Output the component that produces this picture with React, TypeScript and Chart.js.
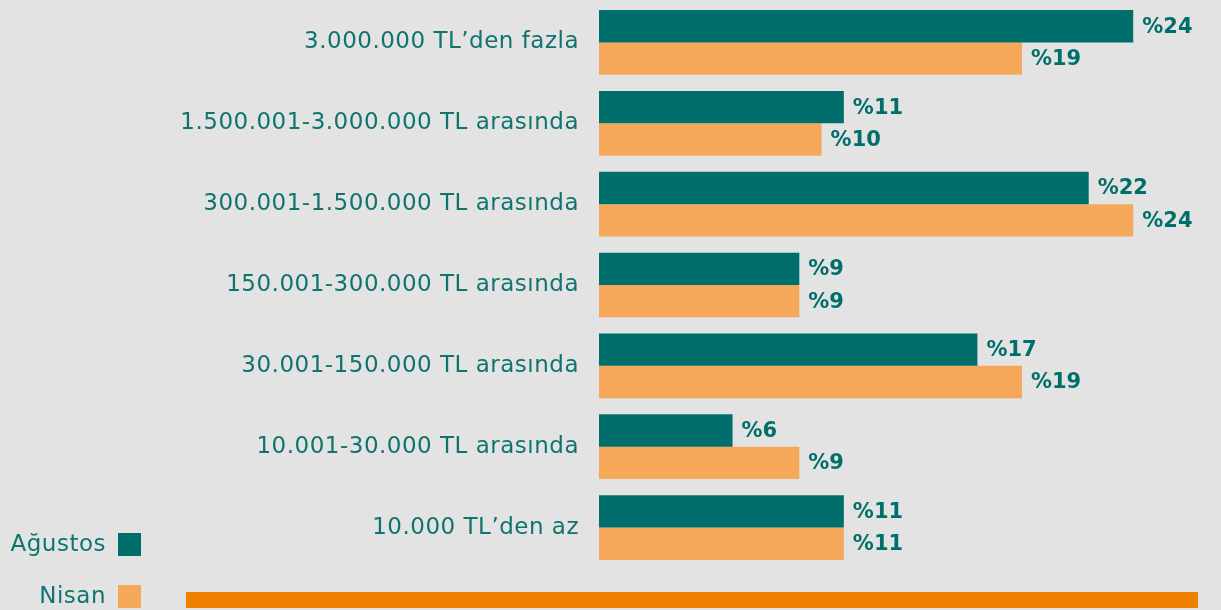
import React, { useEffect, useRef } from "react";
import { Chart, registerables } from "chart.js";

Chart.register(...registerables);

const categories = [
  "3.000.000 TL’den fazla",
  "1.500.001-3.000.000 TL arasında",
  "300.001-1.500.000 TL arasında",
  "150.001-300.000 TL arasında",
  "30.001-150.000 TL arasında",
  "10.001-30.000 TL arasında",
  "10.000 TL’den az",
];
const agustos = [24, 11, 22, 9, 17, 6, 11];
const nisan = [19, 10, 24, 9, 19, 9, 11];
const seriesNames = ["Ağustos", "Nisan"];

const TEAL = "#006f6b";
const ORANGE = "#f6a85a";
const TEXT = "#0f7470";
const BG = "#e3e3e3";
const FONT = "'DejaVu Sans', sans-serif";

const spacing = {
  id: "spacing",
  beforeDraw(chart: any) {
    chart.ctx.letterSpacing = "0.5px";
  },
  beforeDatasetsDraw(chart: any) {
    chart.ctx.letterSpacing = "0px";
  },
};

const valueLabels = {
  id: "valueLabels",
  afterDatasetsDraw(chart: any) {
    const ctx = chart.ctx;
    ctx.save();
    ctx.letterSpacing = "0px";
    ctx.font = `bold 21px ${FONT}`;
    ctx.fillStyle = TEAL;
    ctx.textAlign = "left";
    ctx.textBaseline = "middle";
    chart.data.datasets.forEach((ds: any, di: number) => {
      const meta = chart.getDatasetMeta(di);
      meta.data.forEach((bar: any, i: number) => {
        ctx.fillText("%" + ds.data[i], bar.x + 9, bar.y + 1);
      });
    });
    ctx.restore();
  },
};

const sideLegend = {
  id: "sideLegend",
  afterDraw(chart: any) {
    const ctx = chart.ctx;
    ctx.save();
    ctx.letterSpacing = "0.5px";
    ctx.font = `23px ${FONT}`;
    ctx.textAlign = "right";
    ctx.textBaseline = "middle";
    const rows = [545, 597];
    chart.data.datasets.forEach((ds: any, di: number) => {
      const y = rows[di];
      ctx.fillStyle = ds.backgroundColor;
      ctx.fillRect(118, y - 12, 23, 23);
      ctx.fillStyle = TEXT;
      ctx.fillText(ds.label, 106, y);
    });
    // decorative bottom strip
    ctx.fillStyle = "#f08000";
    ctx.fillRect(186, 592, 1012, 16);
    ctx.restore();
  },
};

export default function App() {
  const ref = useRef<HTMLCanvasElement>(null);
  useEffect(() => {
    document.body.style.margin = "0";
    document.body.style.background = BG;
    const chart = new Chart(ref.current!, {
      type: "bar",
      data: {
        labels: categories,
        datasets: [
          { label: seriesNames[0], data: agustos, backgroundColor: TEAL },
          { label: seriesNames[1], data: nisan, backgroundColor: ORANGE },
        ],
      },
      options: {
        indexAxis: "y",
        animation: false,
        responsive: false,
        maintainAspectRatio: false,
        datasets: { bar: { categoryPercentage: 0.8, barPercentage: 1.0 } },
        layout: { padding: { left: 0, right: 21, top: 2, bottom: 42 } },
        plugins: { legend: { display: false }, tooltip: { enabled: false } },
        scales: {
          x: {
            min: 0,
            max: 27,
            display: false,
          },
          y: {
            grid: { display: false, drawTicks: false },
            border: { display: false },
            ticks: {
              color: TEXT,
              font: { family: FONT, size: 23 },
              padding: 20,
            },
            afterFit(scale: any) {
              scale.width = 599;
              scale.paddingTop = 0;
              scale.paddingBottom = 0;
            },
          },
        },
      },
      plugins: [spacing, valueLabels, sideLegend],
    });
    return () => chart.destroy();
  }, []);
  return (
    <div style={{ width: 1221, height: 610, background: BG }}>
      <canvas ref={ref} width={1221} height={610} style={{ display: "block" }} />
    </div>
  );
}
